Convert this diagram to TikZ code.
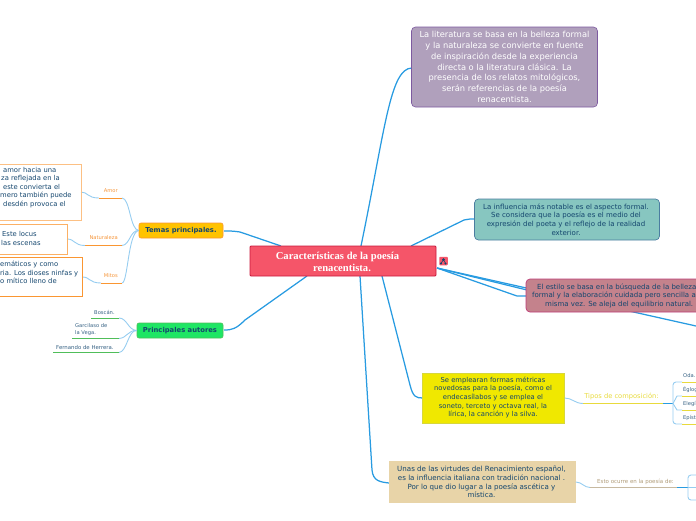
\documentclass[tikz,border=0pt]{standalone}
\usepackage{fontspec}
\setmainfont{DejaVu Sans}
\newfontfamily\titlefont{Liberation Serif}
\definecolor{linkcol}{RGB}{40, 155, 225}
\definecolor{paleline}{RGB}{150, 205, 240}
\definecolor{titlefill}{RGB}{245, 85, 105}
\definecolor{titleedge}{RGB}{200, 25, 60}
\definecolor{purplefill}{RGB}{176, 160, 188}
\definecolor{purpleedge}{RGB}{125, 90, 160}
\definecolor{tealfill}{RGB}{135, 198, 192}
\definecolor{tealedge}{RGB}{75, 125, 160}
\definecolor{rosefill}{RGB}{196, 130, 140}
\definecolor{roseedge}{RGB}{190, 60, 120}
\definecolor{yellowfill}{RGB}{240, 232, 0}
\definecolor{yellowedge}{RGB}{215, 215, 60}
\definecolor{sandfill}{RGB}{232, 212, 168}
\definecolor{orangefill}{RGB}{255, 195, 0}
\definecolor{orangeedge}{RGB}{250, 150, 50}
\definecolor{greenfill}{RGB}{30, 230, 100}
\definecolor{greenedge}{RGB}{80, 190, 90}
\definecolor{inktext}{RGB}{20, 70, 110}
\definecolor{orangetext}{RGB}{245, 150, 60}
\definecolor{yellowtext}{RGB}{232, 218, 60}
\definecolor{sandtext}{RGB}{175, 155, 120}
\tikzset{
    topic/.style={align=center, inner sep=0pt, text=inktext, font=\fontsize{7}{8.7}\selectfont},
    note/.style={topic, align=left, font=\fontsize{6.8}{8.6}\selectfont, anchor=west},
    tag/.style={inner sep=0pt, font=\fontsize{5.2}{7}\selectfont},
    mainlink/.style={linkcol, line width=1.25pt},
    sublink/.style={paleline, line width=0.9pt},
}
\begin{document}
\begin{tikzpicture}[x=1pt, y=-1pt]
    \useasboundingbox (0,0) rectangle (696,520);
    \clip (0,0) rectangle (696,520);

    % Anchor points for the free ends
    \coordinate (hubA) at (361,246);
    \coordinate (hubB) at (411,246);
    \coordinate (hubC) at (437,268);
    \coordinate (hubD) at (382,276);
    \coordinate (hubE) at (360,276);
    \coordinate (hubF) at (281,246);
    \coordinate (hubG) at (307,276);

    % Main links from the title box
    \draw[mainlink] (hubA) .. controls (385,130) and (390,68) .. (412,68);
    \draw[mainlink] (hubB) -- (464,220) .. controls (468,219) and (470,219) .. (475,219);
    \draw[mainlink] (hubC) -- (527,290);
    \draw[mainlink] (hubC) -- (517,296) -- (527,296);
    \draw[mainlink] (hubC) -- (696,326);
    \draw[mainlink] (hubD) -- (410,385) .. controls (413,397) and (416,398) .. (423,398);
    \draw[mainlink] (hubE) -- (372,470) .. controls (373,481) and (380,482) .. (389,483);
    \draw[mainlink] (hubF) -- (240,232) .. controls (234,231) and (230,231) .. (224,231);
    \draw[mainlink] (hubG) -- (245,320) .. controls (236,329) and (232,330) .. (224,330);

    % Title box
    \node[fill=titlefill, draw=titleedge, line width=0.8pt, rounded corners=1pt,
        minimum width=186pt, minimum height=30pt, inner sep=0pt] (title) at (343,261) {};
    \node[text=white, align=center, inner sep=0pt, font=\titlefont\bfseries\fontsize{10.6}{11.6}\selectfont]
        (titletext) at (337.5,262) {Características de la poesía\\ \hspace*{9pt}renacentista.};
    \node[fill=titlefill, rounded corners=0.8pt, minimum size=8.5pt, inner sep=0pt] (badge) at (443.5,261) {};
    \fill[inktext] (441,263.5) circle (1.2pt) (445.5,263.5) circle (1.2pt) (443.5,259.5) circle (1.5pt);
    \draw[inktext, line width=0.6pt] (441,263.5) -- (443.5,259.5) -- (445.5,263.5);

    % Right hand boxes
    \node[fill=purplefill, draw=purpleedge, line width=0.6pt, rounded corners=4pt,
        minimum width=186pt, minimum height=80pt, inner sep=0pt] (belleza) at (504.5,67) {};
    \node[topic, text=white, font=\fontsize{8.3}{10.7}\selectfont] (bellezatext) at (504.5,67)
        {La literatura se basa en la belleza formal\\ y la naturaleza se convierte en fuente\\ de inspiración desde la experiencia\\ directa o la literatura clásica. La\\ presencia  de los relatos mitológicos,\\ serán referencias de la poesía\\ renacentista.};

    \node[fill=tealfill, draw=tealedge, line width=0.7pt, rounded corners=4pt,
        minimum width=185pt, minimum height=41pt, inner sep=0pt] (influencia) at (567,219.5) {};
    \node[topic] (influenciatext) at (566,219.5)
        {La influencia más notable es el aspecto formal.\\ Se considera que la poesía  es el medio del\\ expresión del poeta y el reflejo de la realidad\\ exterior.};

    \node[fill=rosefill, draw=roseedge, line width=0.7pt, rounded corners=4pt,
        minimum width=240pt, minimum height=33pt, inner sep=0pt] (estilo) at (646,295.5) {};
    \node[topic, anchor=west, align=left, font=\fontsize{7}{8.5}\selectfont] (estilotext) at (532,295.5)
        {\hspace*{5pt}El  estilo se basa en la búsqueda de la belleza\\ formal y la elaboración cuidada pero sencilla a la\\ \hspace*{13pt}misma vez. Se aleja del equilibrio natural.};

    \node[fill=yellowfill, draw=yellowedge, line width=0.6pt,
        minimum width=142pt, minimum height=50pt, inner sep=0pt] (formas) at (493.5,398) {};
    \node[topic, font=\fontsize{6.8}{8.6}\selectfont] (formastext) at (493,397.5)
        {Se emplearan formas métricas\\ novedosas para la poesía, como el\\ endecasílabos y se emplea el\\ soneto, terceto y octava real, la\\ lírica, la canción y la silva.};

    \node[fill=sandfill, minimum width=187pt, minimum height=42pt, inner sep=0pt] (virtudes) at (482,482) {};
    \node[topic, font=\fontsize{7.1}{8.8}\selectfont] (virtudestext) at (481.5,482)
        {Unas de las virtudes del Renacimiento español,\\ es la influencia italiana con tradición nacional .\\ Por lo que dio lugar a la poesía ascética y\\ mística.};

    % Left hand topic boxes
    \node[fill=orangefill, draw=orangeedge, line width=0.6pt, rounded corners=2pt,
        minimum width=84pt, minimum height=15pt, inner sep=0pt, text=inktext,
        font=\bfseries\fontsize{6.8}{7}\selectfont] (temas) at (181,230.5) {Temas principales.};
    \node[fill=greenfill, draw=greenedge, line width=0.6pt, rounded corners=2pt,
        minimum width=86pt, minimum height=15pt, inner sep=0pt, text=inktext,
        font=\bfseries\fontsize{6.8}{7}\selectfont] (autores) at (180,330.5) {Principales autores};

    % Theme branches
    \coordinate (amorA) at (99,198);
    \coordinate (amorB) at (122,198);
    \coordinate (natA) at (85,245.5);
    \coordinate (natB) at (122,245.5);
    \coordinate (mitosA) at (101,283);
    \coordinate (mitosB) at (122,283);
    \draw[sublink] (temas.west) .. controls (130,230) and (130,198) .. (amorB);
    \draw[sublink] (temas.west) .. controls (130,230) and (130,245) .. (natB);
    \draw[sublink] (temas.west) .. controls (128,232) and (128,283) .. (mitosB);
    \draw[orangeedge, line width=1pt] (amorA) -- (amorB);
    \draw[orangeedge, line width=1pt] (natA) -- (natB);
    \draw[orangeedge, line width=1pt] (mitosA) -- (mitosB);
    \node[tag, text=orangetext, anchor=east] (amor) at (118,191) {Amor};
    \node[tag, text=orangetext, anchor=east] (natura) at (118,238) {Naturaleza};
    \node[tag, text=orangetext, anchor=east] (mitos) at (118,276) {Mitos};

    % Theme notes, cut by the left edge
    \draw[sublink] (81,192) .. controls (88,192) and (87,198) .. (amorA);
    \draw[sublink] (67,239) .. controls (75,239) and (74,245.5) .. (natA);
    \draw[sublink] (82.5,277) .. controls (90,277) and (89,283) .. (mitosA);
    \draw[orangeedge!60, line width=1pt] (-5,164) rectangle (81,220);
    \draw[orangeedge!75, line width=0.9pt] (-5,224) rectangle (67,254);
    \draw[orangeedge, line width=0.8pt] (-5,257.5) rectangle (82.5,296);
    \node[note] (amornote) at (0,187.5)
        {\hspace*{3pt}amor hacia una\\ \hspace*{1pt}za reflejada en la\\ \hspace*{3pt}este convierta el\\ mero también puede\\ \hspace*{3pt}desdén provoca el};
    \node[note] (natnote) at (0,238.5) {\hspace*{2pt}Este locus\\ \hspace*{1pt}las escenas};
    \node[note] (mitosnote) at (0,272.5) {emáticos  y como\\ ria. Los dioses ninfas y\\ o mítico lleno de};

    % Author branches
    \coordinate (boscanA) at (91,318);
    \coordinate (boscanB) at (119,318);
    \coordinate (garciA) at (72,338.5);
    \coordinate (garciB) at (119,338.5);
    \coordinate (ferA) at (53,352.5);
    \coordinate (ferB) at (119,352.5);
    \draw[sublink] (autores.west) .. controls (128,330) and (127,318) .. (boscanB);
    \draw[sublink] (autores.west) .. controls (128,330) and (127,338) .. (garciB);
    \draw[sublink] (autores.west) .. controls (128,330) and (127,352) .. (ferB);
    \draw[greenedge, line width=0.8pt] (boscanA) -- (boscanB);
    \draw[greenedge, line width=0.8pt] (garciA) -- (garciB);
    \draw[greenedge, line width=0.8pt] (ferA) -- (ferB);
    \node[tag, text=inktext!85, anchor=west] (boscan) at (94,312) {Boscán.};
    \node[tag, text=inktext!85, align=left, anchor=west] (garci) at (75,330) {Garcilaso de\\ la Vega.};
    \node[tag, text=inktext!85, anchor=west, font=\fontsize{5.4}{7}\selectfont] (fer) at (56,347) {Fernando de Herrera.};

    % Types of composition
    \coordinate (tiposA) at (583,403.5);
    \coordinate (tiposB) at (663,403.5);
    \draw[sublink] (formas.east) .. controls (572,398) and (575,403.5) .. (tiposA);
    \draw[yellowtext, line width=1pt] (tiposA) -- (tiposB);
    \draw[linkcol, line width=1pt] (tiposB) -- (673,403.5);
    \node[tag, text=yellowtext, font=\fontsize{6.7}{7}\selectfont] (tipos) at (621.5,396.5) {Tipos de composición:};
    \coordinate (odaA) at (673,382);
    \coordinate (eglogaA) at (673,396);
    \coordinate (elegiaA) at (673,410);
    \coordinate (epistA) at (673,424);
    \draw[sublink, rounded corners=3pt] (682,382) -- (odaA) -- (epistA) -- (682,424);
    \draw[sublink] (673,403.5) -- (677,396) -- (682,396);
    \draw[sublink] (673,403.5) -- (677,410) -- (682,410);
    \draw[yellowtext, line width=0.8pt] (682,382) -- (696,382);
    \draw[yellowtext, line width=0.8pt] (682,396) -- (696,396);
    \draw[yellowtext, line width=0.8pt] (682,410) -- (696,410);
    \draw[yellowtext, line width=0.8pt] (682,424) -- (696,424);
    \node[tag, text=inktext!85, anchor=west] (oda) at (683,376) {Oda.};
    \node[tag, text=inktext!85, anchor=west] (egloga) at (683,390) {Églog};
    \node[tag, text=inktext!85, anchor=west] (elegia) at (683,404) {Elegí};
    \node[tag, text=inktext!85, anchor=west] (epist) at (683,418) {Epíst};

    % Where it happens
    \coordinate (ocurreA) at (590,487.5);
    \coordinate (ocurreB) at (677,487.5);
    \draw[sublink] (virtudes.east) .. controls (582,482) and (584,487.5) .. (ocurreA);
    \draw[sandtext!70, line width=0.8pt] (ocurreA) -- (ocurreB);
    \draw[linkcol, line width=1pt] (ocurreB) -- (688,487.5);
    \node[tag, text=sandtext, font=\fontsize{5.5}{7}\selectfont] (ocurre) at (635.5,482) {Esto ocurre en la poesía de:};
    \draw[sublink, rounded corners=3pt] (696,475) -- (688,475) -- (688,500) -- (696,500);
    \draw[sublink] (688,487.5) -- (696,487.5);
\end{tikzpicture}
\end{document}
